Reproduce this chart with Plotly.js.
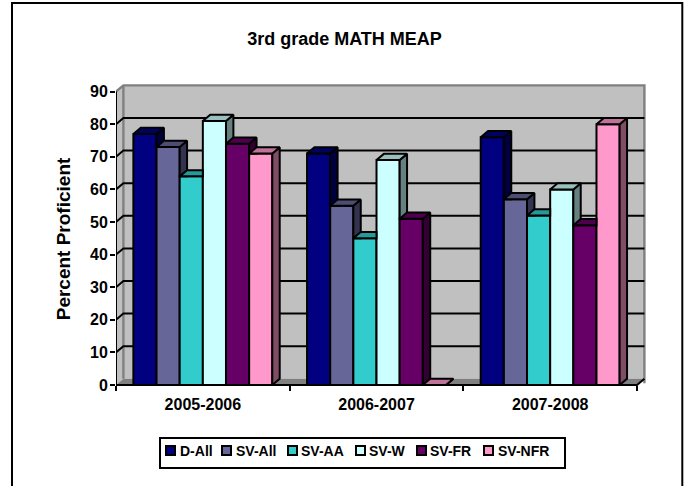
<!DOCTYPE html>
<html>
<head>
<meta charset="utf-8">
<script src="https://cdn.plot.ly/plotly-3.0.1.min.js"></script>
<style>html,body{margin:0;padding:0;background:#fff}</style>
</head>
<body>
<div id="chart" style="width:688px;height:486px"></div>
<script>
const years = ["2005-2006", "2006-2007", "2007-2008"];
const seriesNames = ["D-All", "SV-All", "SV-AA", "SV-W", "SV-FR", "SV-NFR"];
const dAll = [77, 71, 76];
const svAll = [73, 55, 57];
const svAA = [64, 45, 52];
const svW = [81, 69, 60];
const svFR = [74, 51, 49];
const svNFR = [71, 0, 80];
const frontColors = ["#000080", "#666699", "#33CCCC", "#CCFFFF", "#660066", "#FF99CC"];
const topColors = ["#000060", "#4D4D73", "#269999", "#99BFBF", "#4D004D", "#BF7399"];
const sideColors = ["#000040", "#333350", "#1A6666", "#668080", "#330033", "#804D66"];
const yTicks = [0, 10, 20, 30, 40, 50, 60, 70, 80, 90];
const legendSwatchX = [165, 221, 287, 355, 416, 483];
const legendTextX = [179, 235, 300, 368, 429, 497];

const allValues = [dAll, svAll, svAA, svW, svFR, svNFR];
const groupX = years.map((_, i) => i + 0.5);

// pixel geometry of the plot area
const L = 116, T = 82, R = 647, B = 396, zeroY = 385;
const pxPerX = 173.67, pxPerY = 3.26;
const W = R - L, H = B - T;
const dx = 7.4 / pxPerX, dy = 6.2 / pxPerY;
const xMaxFront = 3;
const barW = 0.8 / 6;
const pX = x => (x - L) / W;
const pY = y => (B - y) / H;

const traces = [];
// front faces: real bars
seriesNames.forEach((name, s) => {
  traces.push({
    type: "bar", name, x: groupX, y: allValues[s], showlegend: false, hoverinfo: "x+y+name",
    marker: {color: frontColors[s], line: {color: "#000", width: 2}}
  });
});
// depth faces, painted left to right, hidden parts cut off by the next bar's front
seriesNames.forEach((name, s) => {
  const sx = [], sy = [], tx = [], ty = [];
  groupX.forEach((cx, g) => {
    const v = allValues[s][g];
    const next = s < 5 ? allValues[s + 1][g] : -1;
    const xl = cx - 0.4 + s * barW, xr = xl + barW;
    const lo0 = Math.max(0, next), lo1 = Math.max(dy, next);
    if (next < v + dy) {
      const pts = next > v
        ? [[xr + dx * (next - v) / dy, next], [xr + dx, v + dy], [xr + dx, lo1]]
        : [[xr, v], [xr + dx, v + dy], [xr + dx, lo1], [xr, lo0]];
      pts.concat([pts[0]]).forEach(p => { sx.push(p[0]); sy.push(p[1]); });
      sx.push(null); sy.push(null);
    }
    let top;
    if (next <= v) top = [[xl, v], [xr, v], [xr + dx, v + dy], [xl + dx, v + dy]];
    else if (next >= v + dy) top = [[xl, v], [xr, v], [xr, v + dy], [xl + dx, v + dy]];
    else top = [[xl, v], [xr, v], [xr, next], [xr + dx * (next - v) / dy, next], [xr + dx, v + dy], [xl + dx, v + dy]];
    top.concat([top[0]]).forEach(p => { tx.push(p[0]); ty.push(p[1]); });
    tx.push(null); ty.push(null);
  });
  const base = {type: "scatter", mode: "lines", fill: "toself", showlegend: false, hoverinfo: "skip",
    line: {color: "#000", width: 2, shape: "linear"}, connectgaps: false};
  traces.push(Object.assign({}, base, {x: sx, y: sy, fillcolor: sideColors[s]}));
  traces.push(Object.assign({}, base, {x: tx, y: ty, fillcolor: topColors[s]}));
});
// axis lines on the front plane
traces.push({type: "scatter", mode: "lines", x: [0, 0, xMaxFront, xMaxFront + dx], y: [90, 0, 0, dy], cliponaxis: false,
  showlegend: false, hoverinfo: "skip", line: {color: "#000", width: 2}});

const shapes = [];
const poly = pts => "M" + pts.map(p => p[0] + "," + p[1]).join("L") + "Z";
const open = pts => "M" + pts.map(p => p[0] + "," + p[1]).join("L");
const below = {xref: "x", yref: "y", layer: "below"};
// walls and floor
shapes.push(Object.assign({type: "path", path: poly([[0,0],[0,90],[dx,90+dy],[xMaxFront+dx,90+dy],[xMaxFront+dx,dy],[dx,dy]]),
  fillcolor: "#C0C0C0", line: {width: 0}}, below));
shapes.push(Object.assign({type: "path", path: poly([[0,0],[dx,dy],[xMaxFront+dx,dy],[xMaxFront,0]]),
  fillcolor: "#808080", line: {width: 0}}, below));
// wall edges
shapes.push(Object.assign({type: "path", path: open([[0,90],[dx,90+dy],[xMaxFront+dx,90+dy],[xMaxFront+dx,0.5]]),
  line: {color: "#808080", width: 2.4}}, below));
shapes.push(Object.assign({type: "path", path: open([[dx,90+dy],[dx,dy]]),
  line: {color: "#808080", width: 2.4}}, below));
// gridlines, drawn on the back wall and running down the side wall
yTicks.filter(v => v > 0 && v < 90).forEach(v => {
  shapes.push(Object.assign({type: "path", path: open([[0,v],[dx,v+dy],[xMaxFront+dx,v+dy]]),
    line: {color: "#000", width: 2}}, below));
});
// frame, open at the bottom
const frame = {type: "path", xref: "paper", yref: "paper", layer: "above",
  path: open([[pX(12),pY(486)],[pX(12),pY(3)],[pX(682.3),pY(3)],[pX(682.3),pY(486)]]),
  line: {color: "#000", width: 2}};
shapes.push(frame);
// legend box and swatches
shapes.push({type: "rect", xref: "paper", yref: "paper", x0: pX(160), x1: pX(565), y0: pY(438), y1: pY(468),
  fillcolor: "#fff", line: {color: "#000", width: 2}});
const annotations = [];
seriesNames.forEach((name, s) => {
  shapes.push({type: "rect", xref: "paper", yref: "paper", x0: pX(legendSwatchX[s]+1), x1: pX(legendSwatchX[s]+10),
    y0: pY(446), y1: pY(455), fillcolor: frontColors[s], line: {color: "#000", width: 2}});
  annotations.push({text: "<b>" + name + "</b>", xref: "paper", yref: "paper", x: pX(legendTextX[s]), y: pY(451),
    xanchor: "left", yanchor: "middle", showarrow: false, xshift: 0, borderpad: 0,
    font: {family: "Liberation Sans, Arial, sans-serif", size: 14, color: "#000"}});
});

const font = {family: "Liberation Sans, Arial, sans-serif", color: "#000"};
const layout = {
  width: 688, height: 486, autosize: false, showlegend: false,
  paper_bgcolor: "#fff", plot_bgcolor: "rgba(0,0,0,0)",
  margin: {l: L, r: 688 - R, t: T, b: 486 - B, pad: 0},
  barmode: "group", bargap: 0.2, bargroupgap: 0,
  title: {text: "<b>3rd grade MATH MEAP</b>", x: 344.5 / 688, xanchor: "center", y: 1 - 39 / 486, yanchor: "middle", yref: "container",
    font: Object.assign({size: 18}, font)},
  xaxis: {
    range: [0, W / pxPerX], showgrid: false, zeroline: false, showline: false,
    anchor: "free", position: (B - zeroY) / H,
    tickmode: "array", tickvals: groupX, ticktext: years.map(t => "<b>" + t + "</b>"),
    ticks: "outside", ticklen: 5, tickcolor: "rgba(0,0,0,0)", tickwidth: 1,
    tickfont: Object.assign({size: 16}, font),
    minor: {tickmode: "array", tickvals: [0, 1, 2, 3], ticks: "outside", ticklen: 5, tickwidth: 2, tickcolor: "#000", showgrid: false}
  },
  yaxis: {
    range: [-(B - zeroY) / pxPerY, (zeroY - T) / pxPerY], showgrid: false, zeroline: false, showline: false,
    tickmode: "array", tickvals: yTicks, ticktext: yTicks.map(t => "<b>" + t + "</b>"),
    ticks: "outside", ticklen: 5, tickwidth: 2, tickcolor: "#000", ticklabelstandoff: -1,
    tickfont: Object.assign({size: 16}, font),
    title: {text: "<b>Percent Proficient</b>", standoff: 14, font: Object.assign({size: 19}, font)}
  },
  shapes, annotations
};
Plotly.newPlot("chart", traces, layout, {displayModeBar: false, staticPlot: true});
</script>
</body>
</html>
